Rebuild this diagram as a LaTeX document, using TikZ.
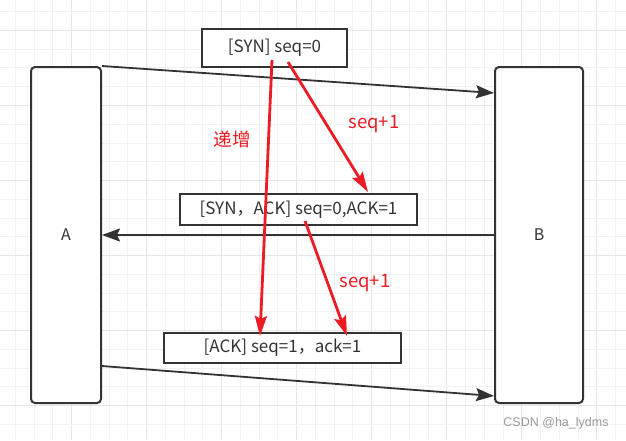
\documentclass[tikz,border=0pt]{standalone}
\usepackage{fontspec}
\setmainfont{Noto Sans CJK SC}
\newfontfamily\wmfont{Liberation Sans}
\usetikzlibrary{arrows.meta}
\definecolor{gridminor}{HTML}{F2F2F2}
\definecolor{gridmajor}{HTML}{E6E6E6}
\definecolor{edge}{HTML}{333333}
\definecolor{txt}{HTML}{333333}
\definecolor{hot}{HTML}{EC1C24}
\tikzset{
  bigbox/.style={draw=edge, line width=2pt, rounded corners=4pt, fill=white, minimum width=#1, minimum height=336pt, inner sep=0pt, font=\fontsize{16}{18}\selectfont, text=txt},
  msgbox/.style={draw=edge, line width=2pt, fill=white, inner sep=0pt, font=\fontsize{17}{19}\selectfont, text=txt},
  flow/.style={draw=edge, line width=1.8pt, -{Stealth[length=18pt,width=13pt,inset=3pt]}},
  incr/.style={draw=hot, line width=2.8pt, -{Stealth[length=20pt,width=12pt,inset=3pt]}},
  redlabel/.style={text=hot, inner sep=0pt, font=\fontsize{18.5}{20}\selectfont},
}
\begin{document}
\begin{tikzpicture}[x=1pt,y=-1pt]
\useasboundingbox (0,0) rectangle (626,440);
\fill[white] (0,0) rectangle (626,440);
% grid
\foreach \i in {0,...,32}{
  \pgfmathtruncatemacro{\m}{mod(\i,4)}
  \ifnum\m=3 \def\gc{gridmajor}\else\def\gc{gridminor}\fi
  \draw[\gc, line width=1pt] ({15.3+18.76*\i},0) -- ({15.3+18.76*\i},440);
}
\foreach \j in {0,...,23}{
  \pgfmathtruncatemacro{\m}{mod(\j,4)}
  \ifnum\m=1 \def\gc{gridmajor}\else\def\gc{gridminor}\fi
  \draw[\gc, line width=1pt] (0,{11.7+18.76*\j}) -- (626,{11.7+18.76*\j});
}
% hosts
\node[bigbox=70pt] (A) at (66,235) {A};
\node[bigbox=88pt] (B) at (539,235) {B};
% flows
\draw[flow] (A.north east) -- ([yshift=-27pt]B.north west);
\draw[flow] (B.west) -- (A.east);
\draw[flow] ([yshift=-131pt]A.east) -- ([yshift=-161pt]B.west);
% messages
\node[msgbox, minimum width=145pt, minimum height=38pt] (syn) at (274.5,48) {[SYN] seq=0};
\node[msgbox, minimum width=237pt, minimum height=31pt] (synack) at (298.5,209.5) {[SYN，ACK] seq=0,ACK=1};
\node[msgbox, minimum width=237pt, minimum height=30pt] (ack) at (282.5,348) {[ACK] seq=1，ack=1};
% increments
\draw[incr] ([xshift=-2.5pt,yshift=8pt]syn.south) -- ([xshift=-22.5pt,yshift=-4pt]ack.north);
\draw[incr] ([xshift=13.5pt,yshift=6pt]syn.south) -- ([xshift=69.5pt,yshift=1pt]synack.north);
\draw[incr] ([xshift=6.5pt,yshift=5pt]synack.south) -- ([xshift=64.5pt,yshift=-4pt]ack.north);
% labels
\node[redlabel] (l1) at (232,139) {递增};
\node[redlabel] (l2) at (374,124) {seq+1};
\node[redlabel] (l3) at (365,283) {seq+1};
\node[text=black!40, inner sep=0pt, font=\wmfont\fontsize{12.5}{14}\selectfont] (wm) at (556,423) {CSDN @ha\_lydms};
\end{tikzpicture}
\end{document}
